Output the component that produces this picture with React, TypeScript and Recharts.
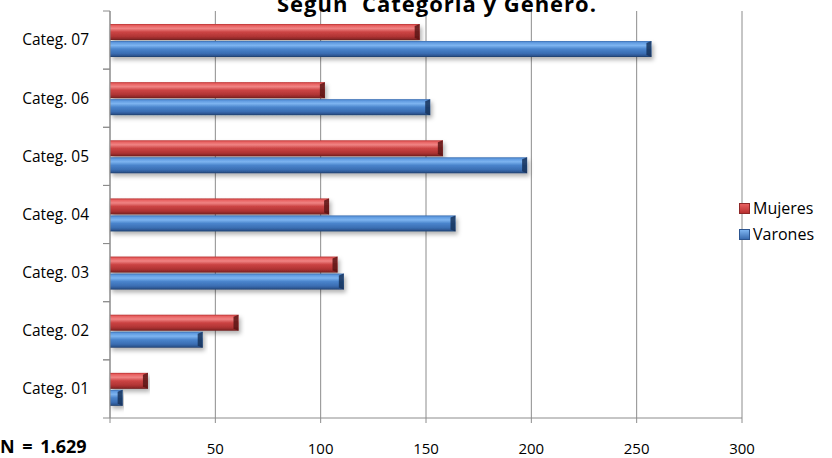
import { BarChart, Bar, XAxis, YAxis, CartesianGrid, Legend } from "recharts";

const categorias = ["Categ. 01", "Categ. 02", "Categ. 03", "Categ. 04", "Categ. 05", "Categ. 06", "Categ. 07"];
const mujeres = [18, 61, 108, 104, 158, 102, 147];
const varones = [6, 44, 111, 164, 198, 152, 257];
const xTicks = [0, 50, 100, 150, 200, 250, 300];

const data = categorias.map((categoria, i) => ({
  categoria,
  Mujeres: mujeres[i],
  Varones: varones[i],
}));

const gris = "#8c8c8c";
const fuente = "'Open Sans', sans-serif";
const TICK_SIZE = 7;
const TICK_MARGIN = 14;

function barra(grad: string, cap: string) {
  return (props: any) => {
    const { x, y, width, height } = props;
    if (!width || width <= 0) return <g />;
    const c = Math.min(5, width);
    return (
      <g filter="url(#sombra)">
        <rect x={x} y={y} width={width} height={height} fill={`url(#${grad})`} />
        <polygon
          points={`${x + width - c},${y + 2} ${x + width},${y} ${x + width},${y + height} ${x + width - c},${y + height - 2}`}
          fill={cap}
          opacity={0.85}
        />
      </g>
    );
  };
}

// etiqueta de categoría + marcas en los límites de cada banda
function TickCategoria(props: any) {
  const { x, y, payload } = props;
  const ejeX = x + TICK_SIZE + TICK_MARGIN;
  const half = payload?.offset ?? 0;
  return (
    <g>
      {half > 0 && (
        <>
          <line x1={ejeX - TICK_SIZE} x2={ejeX} y1={y - half} y2={y - half} stroke={gris} />
          <line x1={ejeX - TICK_SIZE} x2={ejeX} y1={y + half} y2={y + half} stroke={gris} />
        </>
      )}
      <text x={x} y={y} dy="0.35em" textAnchor="end" fill="#000" fontFamily={fuente} fontSize={15.5}>
        {payload.value}
      </text>
    </g>
  );
}

function Leyenda(props: any) {
  const items = props.payload ?? [];
  return (
    <div style={{ fontFamily: fuente, fontSize: 16, color: "#000" }}>
      {items.map((it: any) => (
        <div key={it.value} style={{ display: "flex", alignItems: "center", height: 26 }}>
          <span
            style={{
              display: "inline-block",
              width: 11,
              height: 11,
              marginRight: 3,
              background: it.value === "Mujeres" ? "linear-gradient(#e86060, #b83030)" : "linear-gradient(#7db4f0, #3a6cb0)",
              border: `1px solid ${it.value === "Mujeres" ? "#8e2828" : "#2c5590"}`,
              boxSizing: "border-box",
            }}
          />
          {it.value}
        </div>
      ))}
    </div>
  );
}

export default function App() {
  return (
    <div style={{ position: "absolute", left: 0, top: 0, width: 832, height: 458, background: "#fff", overflow: "hidden" }}>
      <BarChart
        width={832}
        height={458}
        data={data}
        layout="vertical"
        margin={{ top: 11, right: 90, bottom: 10, left: 0 }}
        barSize={16}
        barGap={1}
      >
        <defs>
          <linearGradient id="gradM" x1="0" y1="0" x2="0" y2="1">
            <stop offset="0" stopColor="#b83030" />
            <stop offset="0.1" stopColor="#e86060" />
            <stop offset="0.28" stopColor="#f08484" />
            <stop offset="0.5" stopColor="#cc4444" />
            <stop offset="0.78" stopColor="#b03434" />
            <stop offset="0.92" stopColor="#8e2828" />
            <stop offset="1" stopColor="#6a1c1c" />
          </linearGradient>
          <linearGradient id="gradV" x1="0" y1="0" x2="0" y2="1">
            <stop offset="0" stopColor="#3a6cb0" />
            <stop offset="0.1" stopColor="#5f9ae0" />
            <stop offset="0.28" stopColor="#7db4f0" />
            <stop offset="0.5" stopColor="#4a84cc" />
            <stop offset="0.78" stopColor="#3a6db2" />
            <stop offset="0.92" stopColor="#2c5590" />
            <stop offset="1" stopColor="#1e3b66" />
          </linearGradient>
          <filter id="sombra" x="-5%" y="-30%" width="110%" height="180%">
            <feDropShadow dx="2" dy="3" stdDeviation="2" floodColor="#000" floodOpacity="0.3" />
          </filter>
        </defs>
        <CartesianGrid horizontal={false} stroke={gris} />
        <XAxis
          type="number"
          domain={[0, 300]}
          ticks={xTicks}
          tickFormatter={(v: number) => (v === 0 ? "" : String(v))}
          stroke={gris}
          tickSize={5}
          tickMargin={20}
          height={30}
          tick={{ fill: "#000", fontFamily: fuente, fontSize: 15 }}
        />
        <YAxis
          type="category"
          dataKey="categoria"
          reversed
          width={110}
          stroke={gris}
          tickLine={false}
          tickSize={TICK_SIZE}
          tickMargin={TICK_MARGIN}
          tick={<TickCategoria />}
        />
        <Legend
          layout="vertical"
          align="center"
          verticalAlign="middle"
          wrapperStyle={{ left: 739, top: 195, width: "auto" }}
          content={<Leyenda />}
        />
        <Bar dataKey="Mujeres" fill="#c0393b" shape={barra("gradM", "#5a1515")} isAnimationActive={false} />
        <Bar dataKey="Varones" fill="#3a6fb7" shape={barra("gradV", "#17335a")} isAnimationActive={false} />
      </BarChart>
      <div
        style={{
          position: "absolute",
          left: 0,
          width: 874,
          top: -8,
          textAlign: "center",
          fontFamily: fuente,
          fontWeight: "bold",
          fontSize: 22,
          lineHeight: "22px",
          letterSpacing: 1,
          whiteSpace: "pre",
        }}
      >
        {"Según  Categoría y Género."}
      </div>
      <div
        style={{
          position: "absolute",
          left: 0,
          top: 437,
          fontFamily: fuente,
          fontWeight: "bold",
          fontSize: 18,
          lineHeight: "18px",
          wordSpacing: 3,
        }}
      >
        N = 1.629
      </div>
    </div>
  );
}
